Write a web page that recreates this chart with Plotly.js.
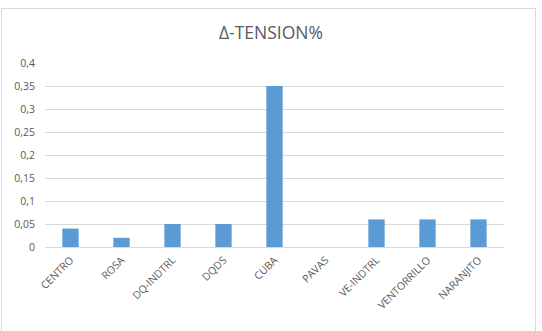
<!DOCTYPE html>
<html>
<head>
<meta charset="utf-8">
<script src="https://cdn.plot.ly/plotly-3.0.1.min.js"></script>
<style>
html,body{margin:0;padding:0;background:#fff;overflow:hidden;}
#frame{position:absolute;left:1px;top:8px;width:535px;height:330px;border:1px solid #d9d9d9;box-sizing:border-box;}
#chart{position:absolute;left:0;top:0;width:542px;height:331px;}
</style>
</head>
<body>
<div id="frame"></div>
<div id="chart"></div>
<script>
const categories = ["CENTRO","ROSA","DQ-INDTRL","DQDS","CUBA","PAVAS","VE-INDTRL","VENTORRILLO","NARANJITO"];
const values = [0.04, 0.02, 0.05, 0.05, 0.35, 0, 0.06, 0.06, 0.06];
const yTickVals = [0, 0.05, 0.1, 0.15, 0.2, 0.25, 0.3, 0.35, 0.4];

const font = "'Open Sans', Lato, sans-serif";
Plotly.newPlot('chart', [{
  type: 'bar',
  x: categories,
  y: values,
  marker: {color: '#5b9bd5'},
  hoverinfo: 'x+y'
}], {
  width: 542, height: 331,
  paper_bgcolor: 'rgba(0,0,0,0)',
  plot_bgcolor: 'rgba(0,0,0,0)',
  separators: ',.',
  margin: {l: 45, r: 38, t: 63, b: 84},
  bargap: 0.68,
  showlegend: false,
  title: {text: 'Δ-TENSION%', x: 0.5, xanchor: 'center', y: 0.9, yanchor: 'middle',
          font: {family: font, size: 17.5, color: '#595959'}},
  xaxis: {
    type: 'category',
    tickangle: -45,
    tickfont: {family: font, size: 10.5, color: '#595959'},
    ticklabelstandoff: 4,
    showgrid: false, showline: false, ticks: '', zeroline: false
  },
  yaxis: {
    range: [0, 0.4],
    tickvals: yTickVals,
    ticktext: yTickVals.map(v => String(v).replace('.', ',')),
    tickfont: {family: font, size: 10.5, color: '#595959'},
    ticklabelstandoff: 9,
    gridcolor: '#d9d9d9', gridwidth: 1,
    zeroline: true, zerolinecolor: '#d9d9d9', zerolinewidth: 1,
    showline: false, ticks: '', ticklen: 0
  }
}, {displayModeBar: false, staticPlot: true});
</script>
</body>
</html>
